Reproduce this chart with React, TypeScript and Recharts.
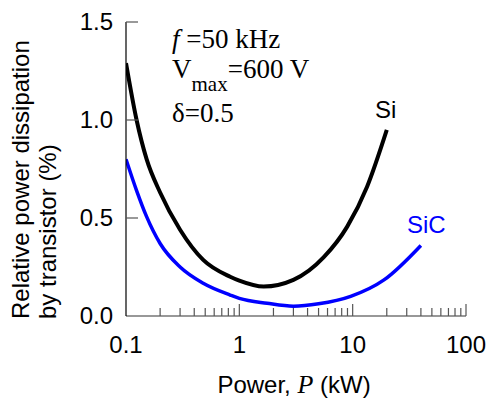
import { LineChart, Line, XAxis, YAxis } from 'recharts'

// (P in kW, relative dissipation in %)
const siPower = [0.1, 0.124, 0.152, 0.2, 0.3, 0.48, 0.83, 1.0, 1.64, 3.0, 5.56, 8.95, 13.4, 20]
const siLoss = [1.29, 1.0, 0.8, 0.63, 0.44, 0.286, 0.2, 0.18, 0.15, 0.184, 0.3, 0.456, 0.66, 0.95]

const sicPower = [0.1, 0.124, 0.152, 0.2, 0.3, 0.48, 0.83, 1.0, 1.76, 3.0, 5.0, 9.6, 18.9, 40]
const sicLoss = [0.8, 0.64, 0.507, 0.37, 0.25, 0.167, 0.107, 0.09, 0.065, 0.05, 0.062, 0.1, 0.184, 0.36]

const xTicks = [
  0.1, 0.2, 0.3, 0.4, 0.5, 0.6, 0.7, 0.8, 0.9,
  1, 2, 3, 4, 5, 6, 7, 8, 9,
  10, 20, 30, 40, 50, 60, 70, 80, 90, 100,
]
const xMajor = [1, 10, 100]
const xLabels = [0.1, 1, 10, 100]
const yTicks = [0, 0.5, 1.0, 1.5]

const siData = siPower.map((p, i) => ({ p, v: siLoss[i] }))
const sicData = sicPower.map((p, i) => ({ p, v: sicLoss[i] }))

const SANS = '"Liberation Sans", Arial, sans-serif'
const SERIF = '"Liberation Serif", "Times New Roman", serif'
const TICK = '#555'

function XTick({ x, y, payload }: any) {
  const val = payload.value as number
  const major = xMajor.includes(val)
  const label = xLabels.includes(val)
  return (
    <g>
      {val !== 0.1 && (
        <line x1={x} x2={x} y1={y} y2={y - (major ? 12 : 8)} stroke={TICK} strokeWidth={1.2} />
      )}
      {label && (
        <text x={x} y={y + 37} textAnchor="middle" fontFamily={SANS} fontSize={24} fill="#000">
          {String(val)}
        </text>
      )}
    </g>
  )
}

function YTick({ x, y, payload }: any) {
  const val = payload.value as number
  return (
    <g>
      {val !== 0 && <line x1={x} x2={x + 12} y1={y} y2={y} stroke={TICK} strokeWidth={1.2} />}
      <text x={x - 13} y={y + 8} textAnchor="end" fontFamily={SANS} fontSize={24} fill="#000">
        {val.toFixed(1)}
      </text>
    </g>
  )
}

export default function App() {
  return (
    <div style={{ position: 'absolute', left: 0, top: 0, background: '#fff' }}>
      <LineChart width={487} height={401} margin={{ top: 22, right: 21, bottom: 84, left: 125 }}>
        <XAxis
          type="number"
          dataKey="p"
          scale="log"
          domain={[0.1, 100]}
          ticks={xTicks}
          interval={0}
          allowDataOverflow
          height={1}
          tickSize={0}
          tickMargin={0}
          tickLine={false}
          axisLine={{ stroke: '#333', strokeWidth: 1.2 }}
          tick={<XTick />}
        />
        <YAxis
          type="number"
          domain={[0, 1.5]}
          ticks={yTicks}
          interval={0}
          width={1}
          tickSize={0}
          tickMargin={0}
          tickLine={false}
          axisLine={{ stroke: '#000', strokeWidth: 1.2 }}
          tick={<YTick />}
        />
        <Line data={siData} dataKey="v" type="monotone" stroke="#000" strokeWidth={4} dot={false} isAnimationActive={false} />
        <Line data={sicData} dataKey="v" type="monotone" stroke="#0000ff" strokeWidth={3.5} dot={false} isAnimationActive={false} />

        <text x={172} y={48} fontFamily={SERIF} fontSize={27} fill="#000">
          <tspan fontStyle="italic">f</tspan> =50 kHz
        </text>
        <text x={172} y={78} fontFamily={SERIF} fontSize={27} fill="#000">
          V<tspan fontSize={21} dy={13}>max</tspan><tspan dy={-13}>=600 V</tspan>
        </text>
        <text x={172} y={122} fontFamily={SERIF} fontSize={27} fill="#000">δ=0.5</text>

        <text x={375} y={118} fontFamily={SANS} fontSize={24} fill="#000">Si</text>
        <text x={407} y={233} fontFamily={SANS} fontSize={24} fill="#0000ff">SiC</text>

        <text x={294} y={393} textAnchor="middle" fontFamily={SANS} fontSize={24} fill="#000">
          Power, <tspan fontFamily={SERIF} fontStyle="italic" fontSize={26}>P</tspan> (kW)
        </text>
        <text x={29} y={319} fontFamily={SANS} fontSize={24} fill="#000" transform="rotate(-90 29 319)">
          Relative power dissipation
        </text>
        <text x={56} y={319} fontFamily={SANS} fontSize={24} fill="#000" transform="rotate(-90 56 319)">
          by transistor (%)
        </text>
      </LineChart>
    </div>
  )
}
